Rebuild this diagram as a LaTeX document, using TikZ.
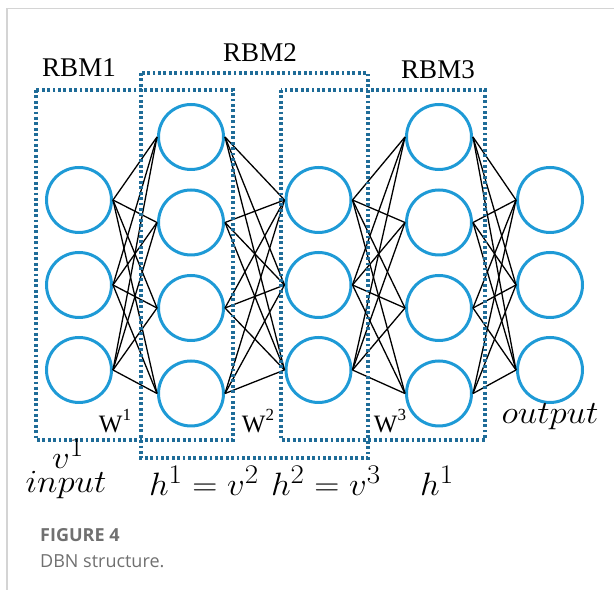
\documentclass[tikz,border=0pt]{standalone}
\usepackage{graphicx}
\usepackage{fontspec}
\setmainfont{Liberation Serif}
\newfontfamily\capfont{Open Sans}
\definecolor{unitblue}{HTML}{1E9AD6}
\definecolor{boxblue}{HTML}{1F6C98}
\definecolor{framegray}{HTML}{D4D4D4}
\definecolor{capgray}{HTML}{707070}
% math labels set at the largest CM size, then enlarged
\newcommand{\biglabel}[1]{\scalebox{1.4}[1.3]{$\mathversion{bold}#1$}}
% weight name with a raised index
\newcommand{\wname}[1]{W\raisebox{0.45em}{\fontsize{17}{18}\selectfont #1}}
\begin{document}
\begin{tikzpicture}[x=1pt,y=-1pt,
  neuron/.style={circle,draw=unitblue,line width=3pt,minimum size=65pt,inner sep=0pt},
  weight/.style={black,line width=1.3pt},
  rbmbox/.style={draw=boxblue,line width=3.2pt,dash pattern=on 2.8pt off 2.6pt},
  rbmlabel/.style={font=\fontsize{27}{30}\selectfont},
  wlabel/.style={font=\fontsize{25}{28}\selectfont},
  mlabel/.style={font=\fontsize{24.88}{28}\selectfont},
  captext/.style={anchor=base west,inner sep=0pt,text=capgray}]
\useasboundingbox (0,0) rectangle (614,593);
% frame lines
\draw[framegray,line width=1.5pt] (7,8.5) -- (614,8.5);
\draw[framegray,line width=1.5pt] (7,8.5) -- (7,590);
% layers of units
\foreach \i/\y in {1/200,2/285,3/370} {
  \node[neuron] (a\i) at (79,\y) {};
  \node[neuron] (c\i) at (318.5,\y) {};
  \node[neuron] (e\i) at (550,\y) {};
}
\foreach \i/\y in {1/137,2/222.5,3/308,4/393.5} {
  \node[neuron] (b\i) at (191,\y) {};
  \node[neuron] (d\i) at (439,\y) {};
}
% full connections between neighbouring layers
\foreach \i in {1,2,3} {
  \foreach \j in {1,2,3,4} {
    \draw[weight] (a\i.east) -- (b\j.west);
    \draw[weight] (b\j.east) -- (c\i.west);
    \draw[weight] (c\i.east) -- (d\j.west);
    \draw[weight] (d\j.east) -- (e\i.west);
  }
}
% RBM boxes
\draw[rbmbox] (36,90) rectangle (233,440);
\draw[rbmbox] (141,73) rectangle (368,458);
\draw[rbmbox] (281,90) rectangle (485,440);
\node[rbmlabel] (r1) at (79,68) {RBM1};
\node[rbmlabel] (r2) at (260,53) {RBM2};
\node[rbmlabel] (r3) at (438,70) {RBM3};
% weight labels
\node[wlabel] (w1) at (115,421) {\wname{1}};
\node[wlabel] (w2) at (258,421) {\wname{2}};
\node[wlabel] (w3) at (390,421) {\wname{3}};
\node[mlabel] (out) at (550,417) {\biglabel{output}};
% layer names
\node[mlabel,inner sep=0pt] (v1) at (68,454) {\biglabel{v^1}};
\node[mlabel,inner sep=0pt] (inp) at (66,485) {\biglabel{input}};
\node[mlabel] (h1) at (204,481) {\biglabel{h^1=v^2}};
\node[mlabel] (h2) at (326,481) {\biglabel{h^2=v^3}};
\node[mlabel] (h3) at (437,481) {\biglabel{h^1}};
% caption
\node[captext,font=\capfont\bfseries\fontsize{18}{20}\selectfont] (fig) at (40,542) {FIGURE 4};
\node[captext,font=\capfont\fontsize{18}{20}\selectfont] (cap) at (40,568) {DBN structure.};
\end{tikzpicture}
\end{document}
